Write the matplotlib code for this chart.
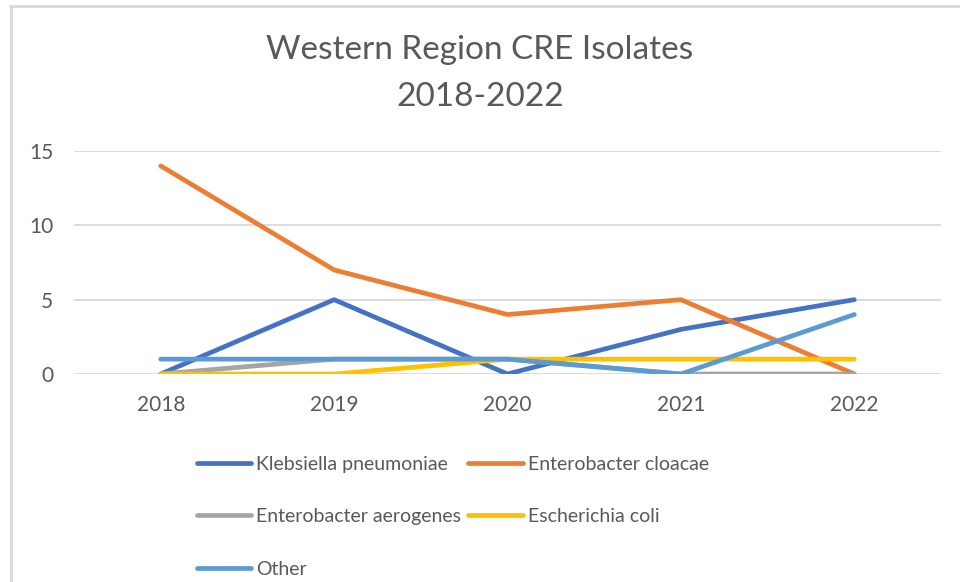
import matplotlib.pyplot as plt
from matplotlib.lines import Line2D

years = ["2018", "2019", "2020", "2021", "2022"]
klebsiella = [0, 5, 0, 3, 5]
cloacae = [14, 7, 4, 5, 0]
aerogenes = [0, 1, 1, 0, 0]
ecoli = [0, 0, 1, 1, 1]
other = [1, 1, 1, 0, 4]

series = [
    ("Klebsiella pneumoniae", klebsiella, "#4472C4"),
    ("Enterobacter cloacae", cloacae, "#ED7D31"),
    ("Enterobacter aerogenes", aerogenes, "#A5A5A5"),
    ("Escherichia coli", ecoli, "#FFC000"),
    ("Other", other, "#5B9BD5"),
]

plt.rcParams['font.family'] = ['Lato', 'DejaVu Sans']
text_col = "#595959"

fig = plt.figure(figsize=(9.6, 5.82), dpi=100)
ax = fig.add_axes([74 / 960, 1 - 374 / 582, (941 - 74) / 960, (374 - 151) / 582])

x = list(range(len(years)))
lines = {}
for name, vals, col in series:
    ln, = ax.plot(x, vals, color=col, lw=3.4, label=name,
                  solid_capstyle='round', solid_joinstyle='round')
    lines[name] = ln

ax.set_xlim(-0.5, len(years) - 0.5)
ax.set_ylim(0, 15)
ax.set_yticks([0, 5, 10, 15])
ax.set_xticks(x)
ax.set_xticklabels(years)
ax.grid(axis='y', color="#D9D9D9", lw=1.3)
ax.set_axisbelow(True)
for s in ax.spines.values():
    s.set_visible(False)
ax.tick_params(length=0, colors=text_col, labelsize=15)
ax.tick_params(axis='y', pad=15)
ax.tick_params(axis='x', pad=15)

fig.text(0.5, 1 - 50 / 582, "Western Region CRE Isolates", ha='center', va='center',
         fontsize=24, color=text_col)
fig.text(0.5, 1 - 97 / 582, "2018-2022", ha='center', va='center',
         fontsize=24, color=text_col)

# legend filled row by row like Excel: reorder for column-major fill
order = ["Klebsiella pneumoniae", "Enterobacter aerogenes", "Other",
         "Enterobacter cloacae", "Escherichia coli"]
leg = fig.legend([lines[n] for n in order], order,
                 loc='upper left', bbox_to_anchor=(189 / 960, 1 - 448 / 582), ncol=2,
                 frameon=False, fontsize=14, handlelength=2.8, handletextpad=0.26,
                 columnspacing=0.36, labelspacing=1.82, borderaxespad=0)
for t in leg.get_texts():
    t.set_color(text_col)

# chart frame edges
fig.add_artist(Line2D([10 / 960, 1], [1 - 6 / 582, 1 - 6 / 582], color="#D9D9D9", lw=2,
                      transform=fig.transFigure))
fig.add_artist(Line2D([10.5 / 960, 10.5 / 960], [0, 1 - 6 / 582], color="#D9D9D9", lw=2,
                      transform=fig.transFigure))

fig.savefig("out.png", dpi=100)
